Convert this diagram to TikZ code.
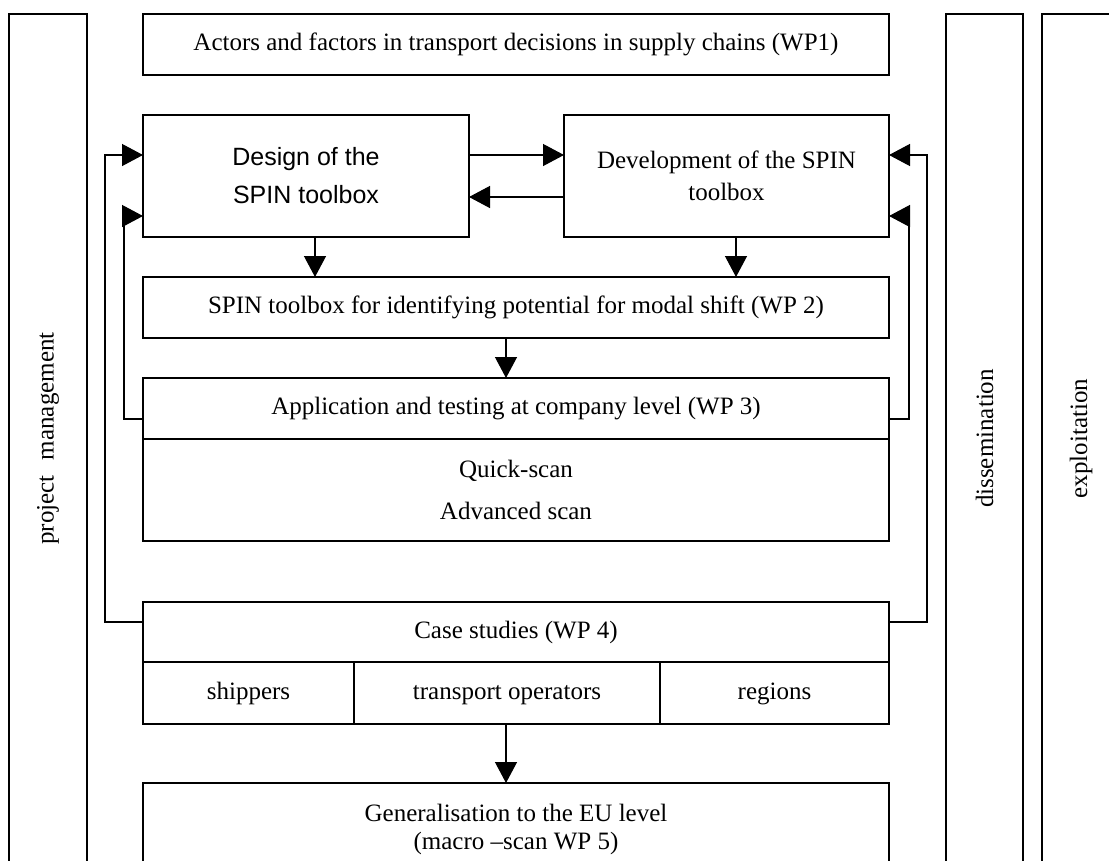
\documentclass[tikz,border=0pt]{standalone}
\usepackage{fontspec}
\setmainfont{Liberation Serif}
\newfontfamily\arialfont{Liberation Sans}
\usetikzlibrary{arrows.meta}
\begin{document}
\begin{tikzpicture}[x=1pt,y=-1pt,
  lw/.style={line width=1.3pt},
  box/.style={draw, lw, inner sep=0pt, outer sep=0pt, anchor=north west, align=center, font=\fontsize{25}{30}\selectfont},
  one/.style={text height=17pt, text depth=5pt},
  coltext/.style={rotate=90, inner sep=0pt, font=\fontsize{25}{30}\selectfont},
  arr/.style={lw, -{Triangle[length=21pt,width=22pt]}}
]
\useasboundingbox (0,0) rectangle (1109,860);
\clip (0,0) rectangle (1109,860);

% side columns
\node[box, minimum width=78pt, minimum height=849pt] (pm) at (9,14) {};
\node[coltext] (pmt) at (pm.center) {project\hspace{15pt}management};
\node[box, minimum width=77pt, minimum height=849pt] (dis) at (946,14) {};
\node[coltext] (dist) at (dis.center) {dissemination};
\node[box, minimum width=78pt, minimum height=849pt] (exp) at (1042,14) {};
\node[coltext] (expt) at (exp.center) {exploitation};

% main boxes
\node[box, one, minimum width=746pt, minimum height=61pt] (wp1) at (143,14) {Actors and factors in transport decisions in supply chains (WP1)};
\node[box, minimum width=326pt, minimum height=122pt, font=\arialfont\fontsize{25}{38}\selectfont] (design) at (143,115) {Design of the\\SPIN toolbox};
\node[box, minimum width=325pt, minimum height=122pt, font=\fontsize{25}{32}\selectfont] (dev) at (564,115) {Development of the SPIN\\toolbox};
\node[box, one, minimum width=746pt, minimum height=61pt] (wp2) at (143,277) {SPIN toolbox for identifying potential for modal shift (WP 2)};
\node[box, one, minimum width=746pt, minimum height=61pt] (wp3) at (143,378) {Application and testing at company level (WP 3)};
\node[box, minimum width=746pt, minimum height=102pt, font=\fontsize{25}{42}\selectfont] (scan) at (143,439) {Quick-scan\\Advanced scan};
\node[box, one, minimum width=746pt, minimum height=60pt] (wp4) at (143,602) {Case studies (WP 4)};
\node[box, one, minimum width=211pt, minimum height=62pt] (ship) at (143,662) {shippers};
\node[box, one, minimum width=306pt, minimum height=62pt] (trans) at (354,662) {transport operators};
\node[box, one, minimum width=229pt, minimum height=62pt] (reg) at (660,662) {regions};
\node[box, minimum width=746pt, minimum height=92pt, font=\fontsize{25}{28}\selectfont] (wp5) at (143,783) {Generalisation to the EU level\\(macro –scan WP 5)};

% arrows between design and development
\draw[arr] (design.east |- 0,155) -- (dev.west |- 0,155);
\draw[arr] (dev.west |- 0,197) -- (design.east |- 0,197);

% downward arrows
\draw[arr] (315,0 |- design.south) -- (315,0 |- wp2.north);
\draw[arr] (736,0 |- dev.south) -- (736,0 |- wp2.north);
\draw[arr] (506,0 |- wp2.south) -- (506,0 |- wp3.north);
\draw[arr] (506,0 |- trans.south) -- (506,0 |- wp5.north);

% feedback loops
\draw[arr] (wp4.west |- 0,622) -| (105,155) -- (design.west |- 0,155);
\draw[arr] (wp3.west |- 0,419) -| (124,216) -- (design.west |- 0,216);
\draw[arr] (wp4.east |- 0,622) -| (927,155) -- (dev.east |- 0,155);
\draw[arr] (wp3.east |- 0,419) -| (909,216) -- (dev.east |- 0,216);
\end{tikzpicture}
\end{document}
